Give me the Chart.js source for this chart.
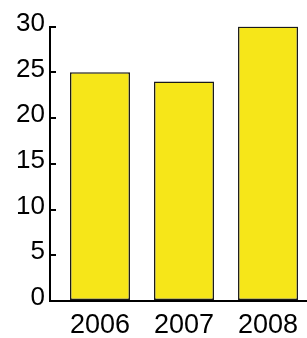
<!DOCTYPE html>
<html lang="en">
<head>
    <meta charset="UTF-8">
    <title>Bars 2006-2008</title>
    <script src="https://cdn.jsdelivr.net/npm/chart.js@4.4.9/dist/chart.umd.js"></script>
    <style>
        body { margin: 0; background: #fff; }
        .chart-container { width: 307px; height: 338px; }
    </style>
</head>
<body>
    <div class="chart-container">
        <canvas id="bar-chart" width="307" height="338"></canvas>
    </div>
    <script>
        // data
        const years = [2006, 2007, 2008];
        const values = [25, 24, 30];
        const yTicks = [0, 5, 10, 15, 20, 25, 30];

        new Chart(document.getElementById("bar-chart"), {
            type: 'bar',
            data: {
                datasets: [{
                    data: years.map((y, i) => ({ x: y, y: values[i] })),
                    backgroundColor: "#f6e619",
                    borderColor: "#1a1a1a",
                    borderWidth: 1.5,
                    borderSkipped: false,
                    barPercentage: 0.714,
                    categoryPercentage: 1
                }]
            },
            options: {
                responsive: false,
                animation: false,
                layout: { padding: { top: 25, right: 0, left: 0, bottom: 0 } },
                plugins: {
                    legend: { display: false },
                    tooltip: { enabled: false }
                },
                scales: {
                    x: {
                        type: 'linear',
                        offset: false,
                        min: 2005.405,
                        max: 2008.464,
                        afterBuildTicks: s => { s.ticks = years.map(v => ({ value: v })); },
                        afterFit: s => { s.height = 37; },
                        grid: { display: false, drawTicks: false },
                        border: { display: true, color: '#000', width: 2 },
                        ticks: {
                            callback: v => String(v),
                            color: '#000',
                            padding: 8,
                            maxRotation: 0,
                            font: { family: 'Liberation Sans', size: 27 }
                        }
                    },
                    y: {
                        min: 0,
                        max: 30,
                        afterBuildTicks: s => { s.ticks = yTicks.map(v => ({ value: v })); },
                        afterFit: s => { s.width = 50; },
                        grid: {
                            drawOnChartArea: false,
                            drawTicks: true,
                            tickLength: -6,
                            color: '#000',
                            lineWidth: 2
                        },
                        border: { display: true, color: '#000', width: 2 },
                        ticks: {
                            color: '#000',
                            padding: 11,
                            labelOffset: -3,
                            font: { family: 'Liberation Sans', size: 26 }
                        }
                    }
                }
            }
        });
    </script>
</body>
</html>
